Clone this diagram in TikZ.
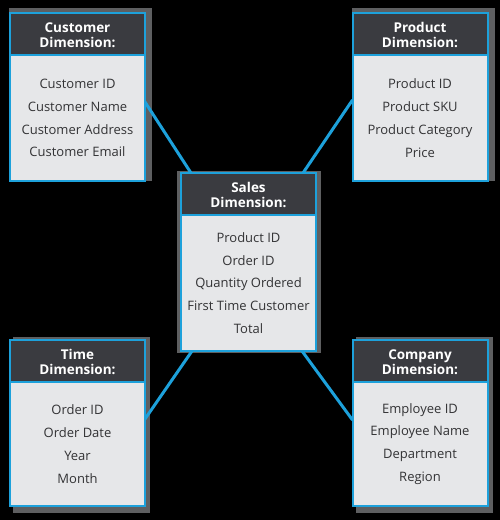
\documentclass[tikz,border=0pt]{standalone}
\usepackage{fontspec}
\setmainfont{Open Sans}
\usetikzlibrary{positioning,backgrounds}

\definecolor{headgray}{HTML}{3A3B40}
\definecolor{bodygray}{HTML}{E6E7E9}
\definecolor{linkblue}{HTML}{1DA1DB}
\definecolor{shadegray}{HTML}{5E5F61}
\definecolor{textgray}{HTML}{333335}

\tikzset{
  head/.style={draw=linkblue,fill=headgray,line width=2pt,rectangle,
    minimum width=135pt,minimum height=42pt,inner sep=0pt,outer sep=0pt,
    align=center,text=white,font=\bfseries\fontsize{13.5}{15.5}\selectfont},
  attrs/.style={draw=linkblue,fill=bodygray,line width=2pt,rectangle,
    minimum width=135pt,inner sep=0pt,outer sep=0pt,
    align=center,text=textgray,font=\fontsize{13}{22.8}\selectfont},
  shade/.style={fill=shadegray},
  link/.style={draw=linkblue,line width=3pt,
    preaction={draw=shadegray,line width=8pt}},
}

\begin{document}
\begin{tikzpicture}[x=1pt,y=1pt]

\useasboundingbox (0,0) rectangle (500,520);

\node[head](cust) at (77.5,486) {\rule{0pt}{12pt}Customer\\Dimension:};
\node[attrs,minimum height=126pt,below=0pt of cust](custbody)
    {Customer ID\\Customer Name\\Customer Address\\Customer Email};

\node[head](prod) at (420,486) {\rule{0pt}{12pt}Product\\Dimension:};
\node[attrs,minimum height=126pt,below=0pt of prod](prodbody)
    {Product ID\\Product SKU\\Product Category\\Price};

\node[head](sales) at (248.5,326) {\rule{0pt}{12pt}Sales\\Dimension:};
\node[attrs,minimum height=136pt,below=0pt of sales](salesbody)
    {Product ID\\Order ID\\Quantity Ordered\\First Time Customer\\Total};

\node[head](time) at (77.5,159) {\rule{0pt}{12pt}Time\\Dimension:};
\node[attrs,minimum height=124pt,below=0pt of time](timebody)
    {Order ID\\Order Date\\Year\\Month};

\node[head](comp) at (420,159) {\rule{0pt}{12pt}Company\\Dimension:};
\node[attrs,minimum height=124pt,below=0pt of comp](compbody)
    {Employee ID\\Employee Name\\Department\\Region};

\begin{pgfonlayer}{background}
  \fill[black] (0,0) rectangle (500,520);

  % shadows behind the boxes
  \fill[shade] ([shift={(-1pt,5pt)}]cust.north west) rectangle ([xshift=7pt]custbody.south east);
  \fill[shade] ([shift={(-1pt,5pt)}]prod.north west) rectangle ([xshift=7pt]prodbody.south east);
  \fill[shade] ([shift={(-4pt,2pt)}]sales.north west) rectangle ([shift={(5pt,-2pt)}]salesbody.south east);
  \fill[shade] ([shift={(3pt,3pt)}]time.north west) rectangle ([shift={(5pt,-7pt)}]timebody.south east);
  \fill[shade] ([shift={(3pt,3pt)}]comp.north west) rectangle ([shift={(5pt,-7pt)}]compbody.south east);

  \path[link]
    ([yshift=16pt]custbody.east) edge ([xshift=10pt]sales.north west)
    ([xshift=-13pt]sales.north east) edge ([yshift=18pt]prodbody.west)
    ([xshift=11pt]salesbody.south west) edge ([yshift=25pt]timebody.east)
    ([xshift=-14pt]salesbody.south east) edge ([yshift=24pt]compbody.west)
    ;
\end{pgfonlayer}

\end{tikzpicture}
\end{document}
